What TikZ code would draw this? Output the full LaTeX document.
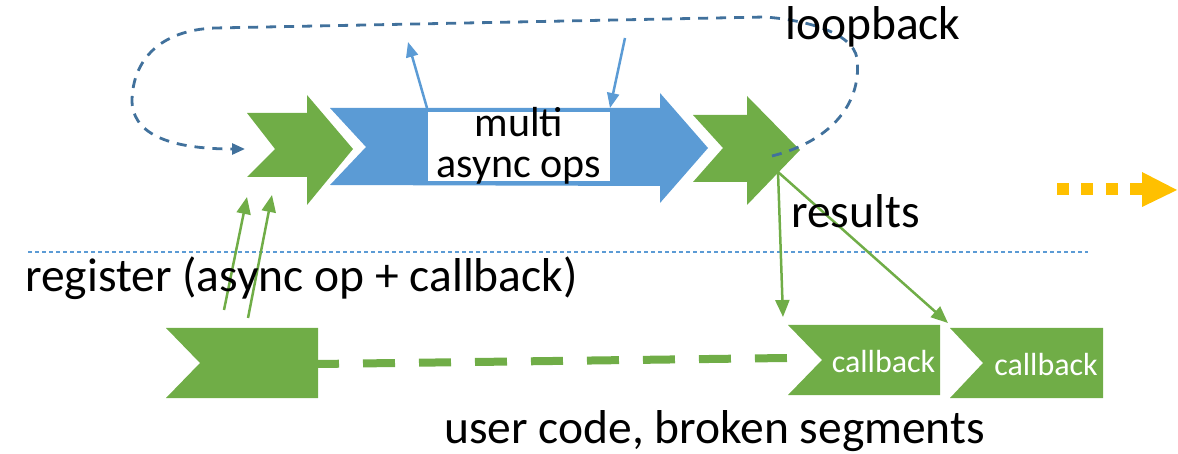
\documentclass[tikz,border=0pt]{standalone}
\usepackage{fontspec}
\setmainfont{Carlito}
\usetikzlibrary{arrows.meta}
\definecolor{cgreen}{RGB}{112,173,71}
\definecolor{cblue}{RGB}{91,155,213}
\definecolor{cdark}{RGB}{65,113,156}
\definecolor{corange}{RGB}{255,192,0}
\begin{document}
\begin{tikzpicture}[x=1pt,y=-1pt,
  greenshape/.style={fill=cgreen,draw=none},
  blueshape/.style={fill=cblue,draw=none},
  bigtxt/.style={font=\fontsize{47.5}{57}\selectfont,inner sep=0pt,text=black},
  boxtxt/.style={font=\fontsize{42}{41}\selectfont,inner sep=0pt,text=black,align=center},
  cbtxt/.style={font=\fontsize{32}{38}\selectfont,inner sep=0pt,text=white},
  greenarrow/.style={draw=cgreen,line width=2.5pt,-{Triangle[length=17pt,width=14pt]}},
  bluearrow/.style={draw=cblue,line width=2.5pt,-{Triangle[length=15pt,width=12pt]}},
  loopline/.style={draw=cdark,line width=2.8pt,dash pattern=on 10pt off 8pt,-{Triangle[length=13pt,width=11pt]}},
  seplines/.style={draw=cblue,line width=1.2pt,dash pattern=on 4pt off 3pt},
  brokenline/.style={draw=cgreen,line width=8pt,dash pattern=on 32pt off 24pt,dash phase=11pt},
  dotline/.style={draw=corange,line width=12pt,dash pattern=on 12pt off 12.4pt}
]
\useasboundingbox (0,0) rectangle (1178,454);

% separator
\coordinate (sepL) at (28,252);
\coordinate (sepR) at (1088,252);
\draw[seplines] (sepL) -- (sepR);

% top row shapes
\fill[greenshape] (247,113) -- (307,113) -- (307,95) -- (353,149) -- (307,205) -- (307,177) -- (247,177) -- (275,149) -- cycle;
\fill[blueshape] (330,108) -- (660,108) -- (660,93) -- (708,148) -- (660,203) -- (660,186) -- (330,185) -- (366,147) -- cycle;
\fill[white] (428,112) rectangle (610,181);
\fill[greenshape] (693,115) -- (747,115) -- (747,96) -- (800,150) -- (747,205) -- (747,182) -- (693,182) -- (723,148) -- cycle;

\node[boxtxt] (multi) at (519,146) {multi\\async ops};

% bottom row shapes
\coordinate (userR) at (318,364);
\coordinate (cbL) at (787,358);
\draw[brokenline] (userR) -- (cbL);
\fill[greenshape] (166,328) -- (318,328) -- (318,398) -- (166,398) -- (200,363) -- cycle;
\fill[greenshape] (788,325) -- (940,325) -- (940,395) -- (788,395) -- (822,360) -- cycle;
\fill[greenshape] (950,328) -- (1103,328) -- (1103,398) -- (950,398) -- (983,363) -- cycle;
\node[cbtxt,anchor=base] (cb1) at (883.5,372) {callback};
\node[cbtxt,anchor=base] (cb2) at (1046,375) {callback};

% loopback
\coordinate (loopS) at (772,156);
\coordinate (loopE) at (245,149);
\draw[loopline] (loopS) .. controls (835,140) and (862,100) .. (857,58)
  .. controls (852,32) and (805,20) .. (765,17) -- (215,28)
  .. controls (160,30) and (133,60) .. (132,100)
  .. controls (132,132) and (165,149) .. (loopE);

% blue arrows
\coordinate (bo1) at (427,108);
\coordinate (bo2) at (408,42);
\coordinate (bi1) at (625,38);
\coordinate (bi2) at (610,108);
\draw[bluearrow] (bo1) -- (bo2);
\draw[bluearrow] (bi1) -- (bi2);

% register arrows
\coordinate (r1s) at (224,310);
\coordinate (r1e) at (247,197);
\coordinate (r2s) at (248,318);
\coordinate (r2e) at (272,195);
\draw[greenarrow] (r1s) -- (r1e);
\draw[greenarrow] (r2s) -- (r2e);

% results arrows
\coordinate (res) at (778,172);
\coordinate (res1) at (783,317);
\coordinate (res2) at (948,323);
\draw[greenarrow] (res) -- (res1);
\draw[greenarrow] (res) -- (res2);

% orange dotted arrow
\coordinate (orS) at (1057,189);
\coordinate (orE) at (1142,189);
\draw[dotline] (orS) -- (orE);
\fill[corange] (1142,172) -- (1177,190) -- (1142,207) -- cycle;

% labels
\node[bigtxt,anchor=base west] (loopback) at (785,40) {loopback};
\node[bigtxt,anchor=base west] (results) at (791,228) {results};
\node[bigtxt,anchor=base west] (register) at (25,292) {register (async op + callback)};
\node[bigtxt,anchor=base west] (usercode) at (444,443) {user code, broken segments};
\end{tikzpicture}
\end{document}
